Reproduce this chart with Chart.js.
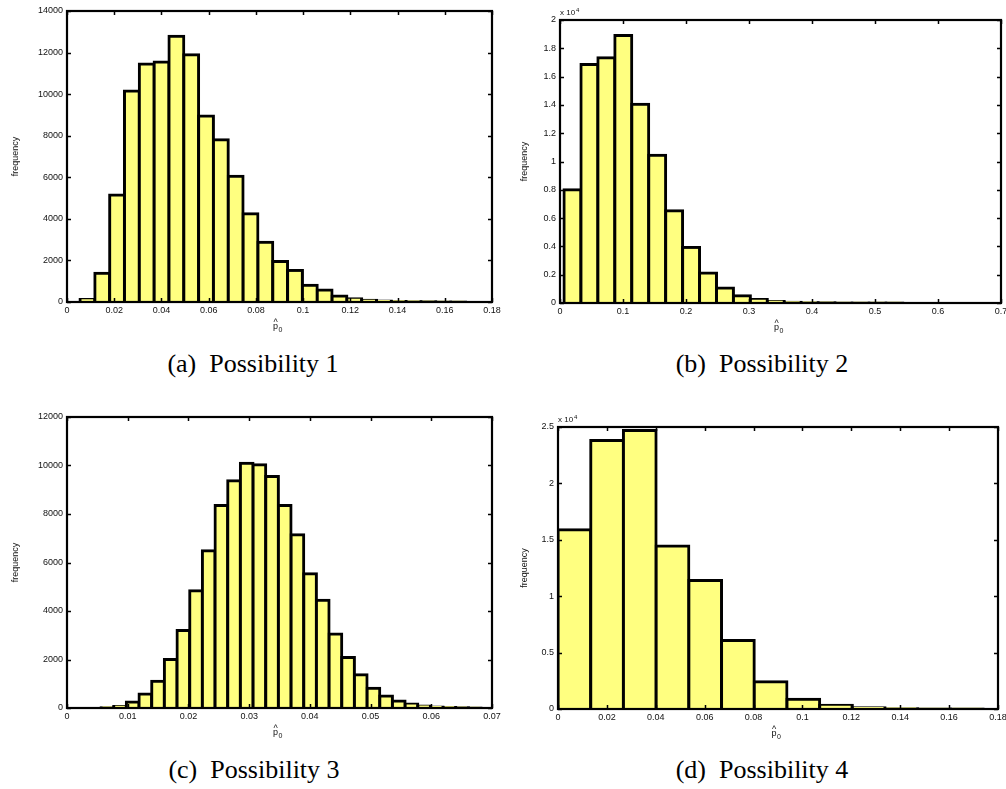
<!DOCTYPE html>
<html>
<head>
<meta charset="utf-8">
<script src="https://cdn.jsdelivr.net/npm/chart.js@4/dist/chart.umd.min.js"></script>
<style>
  html, body { margin: 0; padding: 0; background: #fff; width: 1006px; height: 789px; overflow: hidden; }
  body { position: relative; }
  canvas { position: absolute; }
  .cap {
    position: absolute;
    font-family: "Liberation Serif", "Times New Roman", serif;
    font-size: 26px;
    line-height: 26px;
    white-space: pre;
    color: #000;
    transform: translateX(-50%);
  }
</style>
</head>
<body>
<canvas id="c1"></canvas>
<canvas id="c2"></canvas>
<canvas id="c3"></canvas>
<canvas id="c4"></canvas>
<div class="cap" style="left:253px;top:351px">(a)  Possibility 1</div>
<div class="cap" style="left:762px;top:351px">(b)  Possibility 2</div>
<div class="cap" style="left:254px;top:757px">(c)  Possibility 3</div>
<div class="cap" style="left:762px;top:757px">(d)  Possibility 4</div>
<script>
// Histogram bins: first bin edge, bin width, and counts per bin.
const p1Start = 0.0055;
const p1Width = 0.00628;
const p1Counts = [120, 1380, 5150, 10150, 11450, 11550, 12780, 11900, 8950, 7800,
                  6050, 4250, 2870, 1950, 1520, 800, 580, 290, 160, 80,
                  45, 28, 18, 10, 6, 4];

const p2Start = 0.0063;
const p2Width = 0.0269;
const p2Counts = [8000, 16850, 17340, 18900, 14050, 10450, 6520, 3930, 2120, 1060,
                  520, 240, 100, 50, 25, 12, 6, 4, 2, 1];

const p3Start = 0.0056;
const p3Width = 0.002087;
const p3Counts = [15, 60, 250, 580, 1100, 2000, 3200, 4830, 6480, 8350,
                  9370, 10090, 10030, 9550, 8350, 7140, 5540, 4440, 3050, 2080,
                  1370, 810, 500, 290, 160, 80, 40, 20, 10, 5];

const p4Start = 0.0;
const p4Width = 0.01338;
const p4Counts = [15900, 23800, 24700, 14450, 11400, 6080, 2420, 860, 330, 100, 30, 10, 4];

// Tick values for each axis
const p1XTicks = [0, 0.02, 0.04, 0.06, 0.08, 0.1, 0.12, 0.14, 0.16, 0.18];
const p1YTicks = [0, 2000, 4000, 6000, 8000, 10000, 12000, 14000];
const p2XTicks = [0, 0.1, 0.2, 0.3, 0.4, 0.5, 0.6, 0.7];
const p2YTicks = [0, 2000, 4000, 6000, 8000, 10000, 12000, 14000, 16000, 18000, 20000];
const p3XTicks = [0, 0.01, 0.02, 0.03, 0.04, 0.05, 0.06, 0.07];
const p3YTicks = [0, 2000, 4000, 6000, 8000, 10000, 12000];
const p4XTicks = [0, 0.02, 0.04, 0.06, 0.08, 0.1, 0.12, 0.14, 0.16, 0.18];
const p4YTicks = [0, 5000, 10000, 15000, 20000, 25000];

// Power-of-ten factor shown above the y axis (0 = none)
const p1YExp = 0, p2YExp = 4, p3YExp = 0, p4YExp = 4;

const yTitle = 'frequency';

// Canvas placement and plot-area edges (page pixels)
const layouts = [
  { id: 'c1', x: 0,   y: 0,   w: 507, h: 340, l: 67,  r: 492,  t: 11,  b: 302, titleX: 16 },
  { id: 'c2', x: 490, y: 0,   w: 526, h: 340, l: 560, r: 1001, t: 20,  b: 303, titleX: 525 },
  { id: 'c3', x: 0,   y: 395, w: 507, h: 350, l: 67,  r: 492,  t: 417, b: 708, titleX: 16 },
  { id: 'c4', x: 488, y: 395, w: 528, h: 350, l: 558, r: 998,  t: 427, b: 709, titleX: 525 }
];

const series = [
  { start: p1Start, width: p1Width, counts: p1Counts, xTicks: p1XTicks, yTicks: p1YTicks, exp: p1YExp },
  { start: p2Start, width: p2Width, counts: p2Counts, xTicks: p2XTicks, yTicks: p2YTicks, exp: p2YExp },
  { start: p3Start, width: p3Width, counts: p3Counts, xTicks: p3XTicks, yTicks: p3YTicks, exp: p3YExp },
  { start: p4Start, width: p4Width, counts: p4Counts, xTicks: p4XTicks, yTicks: p4YTicks, exp: p4YExp }
];

const TICK_FONT = { family: '"Liberation Sans", Arial, sans-serif', size: 9 };
const INK = '#111';

function fmt(v) {
  return String(parseFloat(v.toPrecision(6)));
}

// Box around the plot area, inward tick marks on all four sides,
// the x-axis symbol and the exponent factor.
const framePlugin = {
  id: 'frame',
  afterDraw(chart, args, opts) {
    const { ctx, chartArea: a, scales } = chart;
    const xs = scales.x, ys = scales.y;
    const tl = 4;
    ctx.save();
    ctx.strokeStyle = '#000';
    ctx.lineWidth = 1.5;
    ctx.beginPath();
    xs.ticks.forEach(tk => {
      const px = Math.round(xs.getPixelForValue(tk.value)) + 0.5;
      ctx.moveTo(px, a.bottom); ctx.lineTo(px, a.bottom - tl);
      ctx.moveTo(px, a.top);    ctx.lineTo(px, a.top + tl);
    });
    ys.ticks.forEach(tk => {
      const py = Math.round(ys.getPixelForValue(tk.value)) + 0.5;
      ctx.moveTo(a.left, py);  ctx.lineTo(a.left + tl, py);
      ctx.moveTo(a.right, py); ctx.lineTo(a.right - tl, py);
    });
    ctx.stroke();
    ctx.lineWidth = 2.2;
    ctx.strokeRect(a.left, a.top, a.right - a.left, a.bottom - a.top);

    // x-axis symbol: p with hat and subscript 0
    const cx = (a.left + a.right) / 2 - 4;
    ctx.fillStyle = INK;
    ctx.textAlign = 'center';
    ctx.textBaseline = 'middle';
    ctx.font = '9px "Liberation Sans", Arial, sans-serif';
    ctx.fillText('^', cx, a.bottom + 21);
    ctx.fillText('p', cx, a.bottom + 25);
    ctx.font = '7px "Liberation Sans", Arial, sans-serif';
    ctx.fillText('0', cx + 5, a.bottom + 28);

    // exponent factor
    if (opts.exp) {
      ctx.textAlign = 'left';
      ctx.font = '8px "Liberation Sans", Arial, sans-serif';
      const base = 'x 10';
      ctx.fillText(base, a.left, a.top - 7);
      const w = ctx.measureText(base).width;
      ctx.font = '6px "Liberation Sans", Arial, sans-serif';
      ctx.fillText(String(opts.exp), a.left + w + 1, a.top - 10);
    }
    ctx.restore();
  }
};

layouts.forEach((lay, i) => {
  const s = series[i];
  const cv = document.getElementById(lay.id);
  cv.width = lay.w;
  cv.height = lay.h;
  cv.style.left = lay.x + 'px';
  cv.style.top = lay.y + 'px';

  const points = s.counts.map((c, k) => ({ x: s.start + (k + 0.5) * s.width, y: c }));
  const yAxisW = lay.l - lay.x;
  const xAxisH = lay.y + lay.h - lay.b;
  const scaleY = Math.pow(10, s.exp);

  new Chart(cv, {
    type: 'bar',
    data: {
      datasets: [{
        data: points,
        backgroundColor: '#ffff80',
        borderColor: '#000',
        borderWidth: 3,
        inflateAmount: 1.5,
        borderSkipped: 'start',
        barPercentage: 1,
        categoryPercentage: 1,
        grouped: false
      }]
    },
    options: {
      responsive: false,
      animation: false,
      events: [],
      layout: { padding: { left: 0, top: lay.t - lay.y, right: lay.x + lay.w - lay.r, bottom: 0 } },
      plugins: {
        legend: { display: false },
        tooltip: { enabled: false },
        frame: { exp: s.exp }
      },
      scales: {
        x: {
          type: 'linear',
          offset: false,
          min: s.xTicks[0],
          max: s.xTicks[s.xTicks.length - 1],
          grid: { display: false, drawTicks: false },
          border: { display: false },
          afterBuildTicks: sc => { sc.ticks = s.xTicks.map(v => ({ value: v })); },
          afterFit: sc => { sc.height = xAxisH; },
          ticks: {
            autoSkip: false, maxRotation: 0, minRotation: 0,
            padding: 3, color: INK, font: TICK_FONT,
            callback: v => fmt(v)
          }
        },
        y: {
          type: 'linear',
          min: s.yTicks[0],
          max: s.yTicks[s.yTicks.length - 1],
          grid: { display: false, drawTicks: false },
          border: { display: false },
          afterBuildTicks: sc => { sc.ticks = s.yTicks.map(v => ({ value: v })); },
          afterFit: sc => { sc.width = yAxisW; },
          ticks: {
            autoSkip: false, padding: 4, color: INK, font: TICK_FONT,
            callback: v => fmt(v / scaleY)
          },
          title: {
            display: true,
            text: yTitle,
            color: INK,
            font: { family: '"Liberation Sans", Arial, sans-serif', size: 9 },
            padding: { top: lay.titleX - lay.x - 5.4, bottom: 0 }
          }
        }
      }
    },
    plugins: [framePlugin]
  });
});
</script>
</body>
</html>
